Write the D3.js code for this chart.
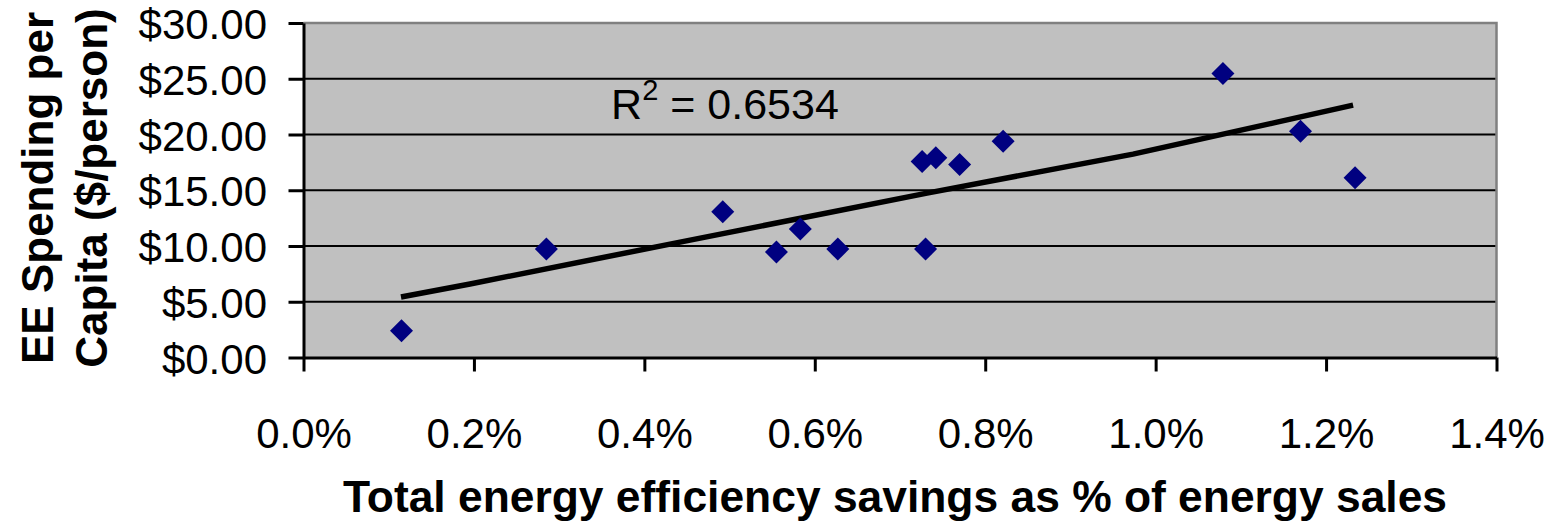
<!DOCTYPE html>
<html>
<head>
<meta charset="utf-8">
<script src="https://cdn.jsdelivr.net/npm/d3@7"></script>
<style>
  body { margin: 0; background: #fff; }
  svg text { font-family: "Liberation Sans", Arial, sans-serif; fill: #000; }
</style>
</head>
<body>
<svg id="chart"></svg>
<script>
/* Chart data */
var savingsPct = [0.115, 0.285, 0.492, 0.555, 0.583, 0.627, 0.726, 0.742, 0.730, 0.770, 0.821, 1.079, 1.170, 1.234];
var spending   = [2.40, 9.72, 13.07, 9.46, 11.52, 9.72, 17.58, 17.91, 9.72, 17.31, 19.40, 25.47, 20.30, 16.11];

/* Trendline as drawn (points where the line bends) */
var trendX = [0.1144, 0.1954, 0.4419, 0.7317, 0.9735, 1.1425, 1.2317];
var trendY = [5.42, 6.59, 10.35, 14.74, 18.24, 21.11, 22.63];

var xTicks = [0, 0.2, 0.4, 0.6, 0.8, 1.0, 1.2, 1.4];
var yTicks = [0, 5, 10, 15, 20, 25, 30];

var rSquared = "0.6534";

var width = 1561, height = 526;
var plot = { left: 303.5, right: 1496.5, top: 23, bottom: 357.5 };

var svg = d3.select("#chart")
    .attr("width", width)
    .attr("height", height);

var x = d3.scaleLinear().domain([0, 1.4]).range([plot.left, plot.right]);
var y = d3.scaleLinear().domain([0, 30]).range([plot.bottom, plot.top]);

// Grey plot area
svg.append("rect")
    .attr("x", plot.left)
    .attr("y", plot.top)
    .attr("width", plot.right - plot.left)
    .attr("height", plot.bottom - plot.top)
    .attr("fill", "#c0c0c0");

// Horizontal gridlines (top one is part of the grey border)
svg.selectAll("line.grid")
    .data(yTicks.filter(function(d) { return d > 0 && d < 30; }))
    .enter().append("line")
    .attr("class", "grid")
    .attr("x1", plot.left).attr("x2", plot.right)
    .attr("y1", function(d) { return y(d); })
    .attr("y2", function(d) { return y(d); })
    .attr("stroke", "#000")
    .attr("stroke-width", 2.2);

// Grey border on top and right
svg.append("path")
    .attr("d", "M" + plot.left + "," + plot.top + "H" + plot.right + "V" + plot.bottom)
    .attr("fill", "none")
    .attr("stroke", "#808080")
    .attr("stroke-width", 2.5);

// Trendline
var trendline = d3.line()
    .x(function(d) { return x(d[0]); })
    .y(function(d) { return y(d[1]); });

svg.append("path")
    .datum(d3.zip(trendX, trendY))
    .attr("d", trendline)
    .attr("fill", "none")
    .attr("stroke", "#000")
    .attr("stroke-width", 5.5);

// Diamond markers
var diamond = "M0,-11.5L11.5,0L0,11.5L-11.5,0Z";
svg.selectAll("path.dot")
    .data(d3.zip(savingsPct, spending))
    .enter().append("path")
    .attr("class", "dot")
    .attr("d", diamond)
    .attr("transform", function(d) { return "translate(" + x(d[0]) + "," + y(d[1]) + ")"; })
    .attr("fill", "#000080");

// X axis
var xAxis = svg.append("g")
    .attr("transform", "translate(0," + plot.bottom + ")")
    .call(d3.axisBottom(x)
        .tickValues(xTicks)
        .tickSize(14)
        .tickSizeOuter(0)
        .tickFormat(function(d) { return d.toFixed(1) + "%"; }));
xAxis.select(".domain").attr("stroke", "#000").attr("stroke-width", 3);
xAxis.selectAll(".tick line").attr("stroke", "#000").attr("stroke-width", 3);
xAxis.selectAll(".tick text")
    .attr("y", 90.5)
    .attr("dy", null)
    .style("font-size", "42px");

// Y axis
var yAxis = svg.append("g")
    .attr("transform", "translate(" + plot.left + ",0)")
    .call(d3.axisLeft(y)
        .tickValues(yTicks)
        .tickSize(15)
        .tickSizeOuter(0)
        .tickPadding(21.5)
        .tickFormat(function(d) { return "$" + d.toFixed(2); }));
yAxis.select(".domain").attr("stroke", "#000").attr("stroke-width", 3);
yAxis.selectAll(".tick line").attr("stroke", "#000").attr("stroke-width", 3);
yAxis.selectAll(".tick text")
    .attr("dy", "15.5px")
    .style("font-size", "42px");
svg.selectAll(".tick text").attr("font-family", null);

// R squared label
var rLabel = svg.append("text")
    .attr("x", x(0.361))
    .attr("y", y(21.4))
    .style("font-size", "43px");
rLabel.append("tspan").text("R");
rLabel.append("tspan").attr("dy", -19).style("font-size", "29px").text("2");
rLabel.append("tspan").attr("dy", 19).text(" = " + rSquared);

// Axis titles
svg.append("text")
    .attr("x", 895)
    .attr("y", 512)
    .attr("text-anchor", "middle")
    .attr("textLength", 1104)
    .attr("lengthAdjust", "spacingAndGlyphs")
    .style("font-size", "44px")
    .style("font-weight", "bold")
    .text("Total energy efficiency savings as % of energy sales");

var yTitle = svg.append("text")
    .attr("transform", "translate(0,188) rotate(-90)")
    .attr("text-anchor", "middle")
    .style("font-size", "44px")
    .style("font-weight", "bold");
yTitle.append("tspan").attr("x", 0).attr("y", 53).text("EE Spending per");
yTitle.append("tspan").attr("x", 0).attr("y", 107).text("Capita ($/person)");
</script>
</body>
</html>
